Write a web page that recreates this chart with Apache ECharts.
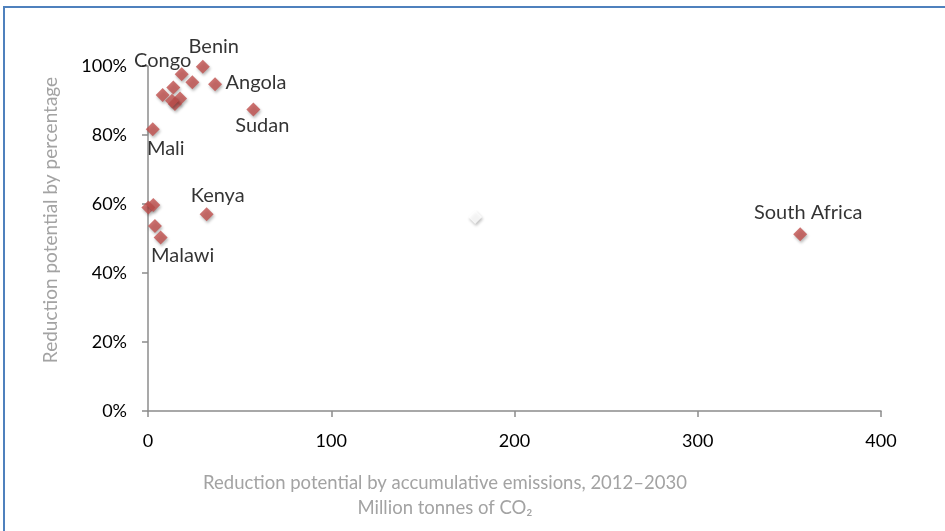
<!DOCTYPE html>
<html>
<head>
<meta charset="utf-8">
<script src="https://cdn.jsdelivr.net/npm/echarts@6/dist/echarts.min.js"></script>
<style>
  html, body { margin: 0; padding: 0; background: #ffffff; }
  #chart { width: 945px; height: 531px; }
</style>
</head>
<body>
<div id="chart"></div>
<script>
// Reduction potential per country: cumulative emissions (Mt CO2) vs share (%)
const countries = ['Benin', 'Congo', '', 'Angola', '', '', '', '', '', 'Sudan', 'Mali',
                   '', '', 'Kenya', '', 'Malawi', 'South Africa'];
const emissions = [29.9, 18.4, 24.2, 36.6, 13.8, 8.0, 17.5, 14.7, 13.1, 57.5, 2.6,
                   0.2, 2.9, 32.0, 3.8, 6.9, 355.9];
const reductionPct = [99.8, 97.6, 95.3, 94.7, 93.8, 91.6, 90.6, 89.0, 89.9, 87.4, 81.7,
                      59.0, 59.7, 57.0, 53.6, 50.3, 51.2];

// Unlabelled hollow point
const hollowX = [178.5];
const hollowY = [56.2];

const xTicks = [0, 100, 200, 300, 400];
const yTicks = [0, 20, 40, 60, 80, 100];

const xTitleLines = ['Reduction potential by accumulative emissions, 2012–2030',
                     'Million tonnes of CO\u2082'];
const yTitle = 'Reduction potential by percentage';

// label offsets (px) for the named points, relative to the marker centre
const labelOffsets = {
  'Benin': [11, -20],
  'Congo': [-19, -14],
  'Angola': [41, -2],
  'Sudan': [9, 16],
  'Mali': [13, 19],
  'Kenya': [11, -19],
  'Malawi': [22, 18],
  'South Africa': [8, -22]
};

const FONT = 'Lato, "Open Sans", sans-serif';
const TITLE_COLOR = '#a3a3a3';

const points = emissions.map((x, i) => {
  const name = countries[i];
  const item = { value: [x, reductionPct[i]], name: name };
  if (name && labelOffsets[name]) {
    item.label = {
      show: true,
      formatter: name,
      position: 'inside',
      offset: labelOffsets[name],
      color: '#000000',
      fontFamily: FONT,
      fontSize: 20
    };
  }
  return item;
});

const chart = echarts.init(document.getElementById('chart'), null, { renderer: 'canvas' });

chart.setOption({
  animation: false,
  backgroundColor: '#ffffff',
  grid: { left: 148, right: 64, top: 66, bottom: 120, containLabel: false },
  xAxis: {
    type: 'value',
    min: 0, max: 400, interval: 100,
    splitLine: { show: false },
    axisLine: { show: true, lineStyle: { color: '#8c8c8c', width: 1.5 } },
    axisTick: { show: true, length: 6, lineStyle: { color: '#8c8c8c', width: 1.5 } },
    axisLabel: {
      margin: 21, color: '#000000', fontSize: 18, fontFamily: FONT,
      formatter: v => xTicks.includes(v) ? String(v) : ''
    }
  },
  yAxis: {
    type: 'value',
    min: 0, max: 100, interval: 20,
    splitLine: { show: false },
    axisLine: { show: true, lineStyle: { color: '#8c8c8c', width: 1.5 } },
    axisTick: { show: true, length: 6, lineStyle: { color: '#8c8c8c', width: 1.5 } },
    axisLabel: {
      margin: 21, color: '#000000', fontSize: 18, fontFamily: FONT,
      formatter: v => yTicks.includes(v) ? v + '%' : ''
    }
  },
  graphic: [
    {
      type: 'rect',
      shape: { x: 4, y: 7, width: 960, height: 540 },
      style: { fill: 'none', stroke: '#4f81bd', lineWidth: 2 },
      silent: true
    },
    {
      type: 'text',
      x: 445, y: 483,
      style: {
        text: xTitleLines[0], fill: TITLE_COLOR, font: '18.5px ' + FONT,
        align: 'center', verticalAlign: 'middle'
      },
      silent: true
    },
    {
      type: 'text',
      x: 445, y: 508,
      style: {
        text: xTitleLines[1], fill: TITLE_COLOR, font: '18.5px ' + FONT,
        align: 'center', verticalAlign: 'middle'
      },
      silent: true
    },
    {
      type: 'text',
      x: 51, y: 220,
      rotation: Math.PI / 2,
      style: {
        text: yTitle, fill: TITLE_COLOR, font: '19px ' + FONT,
        align: 'center', verticalAlign: 'middle'
      },
      silent: true
    }
  ],
  series: [
    {
      type: 'scatter',
      symbol: 'diamond',
      symbolSize: 14,
      itemStyle: {
        color: '#c0504d',
        shadowColor: 'rgba(0,0,0,0.35)',
        shadowBlur: 3,
        shadowOffsetX: 1,
        shadowOffsetY: 2
      },
      data: points,
      z: 3
    },
    {
      type: 'scatter',
      symbol: 'diamond',
      symbolSize: 14,
      itemStyle: {
        color: '#ffffff',
        shadowColor: 'rgba(0,0,0,0.3)',
        shadowBlur: 3,
        shadowOffsetX: 1,
        shadowOffsetY: 2
      },
      data: hollowX.map((x, i) => [x, hollowY[i]]),
      z: 2
    }
  ]
});
</script>
</body>
</html>
